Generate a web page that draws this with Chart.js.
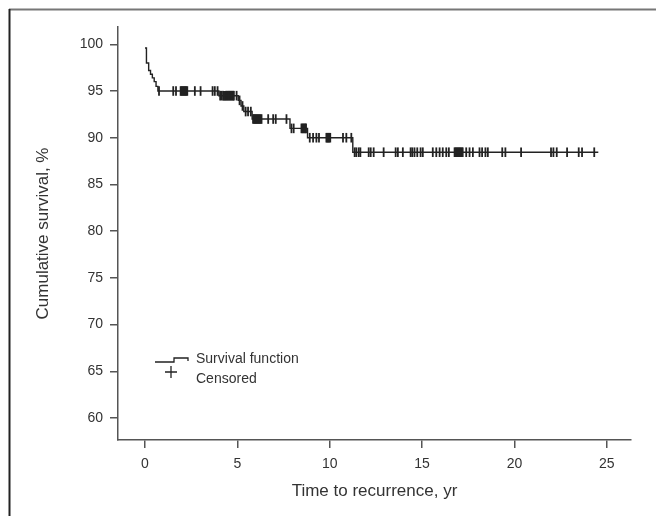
<!DOCTYPE html>
<html>
<head>
<meta charset="utf-8">
<script src="https://cdn.jsdelivr.net/npm/chart.js@4/dist/chart.umd.min.js"></script>
<style>
    html, body { margin: 0; padding: 0; background: #fff; }
</style>
</head>
<body>
<canvas id="km-chart" width="656" height="516"></canvas>
<script>
// Kaplan-Meier curve: time of each step (yr) and survival after it (%)
const stepTimes = [0, 0.08, 0.2, 0.3, 0.4, 0.5, 0.6, 0.7, 4.0, 5.05, 5.2, 5.35, 5.8, 7.85, 8.8, 11.25, 24.54];
const stepSurvival = [99.6, 98.0, 97.2, 96.8, 96.4, 96.0, 95.5, 95.0, 94.5, 94.0, 93.4, 92.8, 92.0, 91.0, 90.0, 88.45, 88.45];

// censored observations (yr); tight runs show up as solid blocks
const censoredTimes = [
    0.76, 1.53, 1.68, 1.93, 1.98, 2.03, 2.08, 2.13, 2.18, 2.23, 2.29, 2.7, 3.01, 3.66, 3.78, 3.93,
    4.07, 4.15, 4.23, 4.28, 4.33, 4.38, 4.43, 4.48, 4.53, 4.58, 4.63, 4.68, 4.73, 4.78, 4.81, 4.96,
    5.12, 5.28, 5.45, 5.58, 5.73,
    5.85, 5.9, 5.95, 6.0, 6.05, 6.1, 6.15, 6.2, 6.25, 6.31, 6.67, 6.94, 7.08, 7.66,
    7.93, 8.05, 8.47, 8.52, 8.57, 8.62, 8.67, 8.72,
    8.92, 9.1, 9.28, 9.42, 9.82, 9.87, 9.92, 9.97, 10.03, 10.72, 10.9, 11.17,
    11.35, 11.44, 11.57, 11.66, 12.11, 12.22, 12.38, 12.92, 13.57, 13.69, 13.96,
    14.38, 14.47, 14.59, 14.74, 14.92, 15.04, 15.58, 15.77, 15.95, 16.12, 16.31,
    16.45, 16.76, 16.81, 16.86, 16.91, 16.96, 17.01, 17.06, 17.11, 17.16, 17.2,
    17.39, 17.57, 17.75, 18.11, 18.25, 18.43, 18.56, 19.34, 19.51, 20.36,
    21.98, 22.11, 22.29, 22.85, 23.48, 23.66, 24.32,
];

const xTicks = [0, 5, 10, 15, 20, 25];
const yTicks = [60, 65, 70, 75, 80, 85, 90, 95, 100];

const legendLabels = ["Survival function", "Censored"];

const font = "'Liberation Sans', Arial, sans-serif";
const ink = "#222";
const axisColor = "#555";

// a censored mark sits on the curve at the survival in force at that time
function survivalAt(t) {
    let s = stepSurvival[0];
    for (let i = 0; i < stepTimes.length; i++) {
        if (stepTimes[i] <= t) s = stepSurvival[i];
    }
    return s;
}

const framePlugin = {
    id: 'frame',
    beforeDraw(chart) {
        const c = chart.ctx;
        c.save();
        c.fillStyle = "#fff";
        c.fillRect(0, 0, chart.width, chart.height);
        c.lineWidth = 2;
        c.strokeStyle = "#777";
        c.beginPath();
        c.moveTo(9, 9.5);
        c.lineTo(chart.width, 9.5);
        c.stroke();
        c.strokeStyle = ink;
        c.beginPath();
        c.moveTo(9.5, 9);
        c.lineTo(9.5, chart.height);
        c.stroke();
        c.restore();
    }
};

// legend sits inside the plot, bottom left
const legendPlugin = {
    id: 'insideLegend',
    afterDraw(chart) {
        const c = chart.ctx;
        const x0 = chart.chartArea.left + 37;
        const y0 = chart.chartArea.top + 331;
        c.save();
        c.strokeStyle = ink;
        c.lineWidth = 1.3;
        c.beginPath();
        c.moveTo(x0, y0 + 4);
        c.lineTo(x0 + 19, y0 + 4);
        c.lineTo(x0 + 19, y0);
        c.lineTo(x0 + 33, y0);
        c.lineTo(x0 + 33, y0 + 3);
        c.stroke();
        // plus sign for censored
        c.beginPath();
        c.moveTo(x0 + 10, y0 + 14);
        c.lineTo(x0 + 22, y0 + 14);
        c.moveTo(x0 + 16, y0 + 8);
        c.lineTo(x0 + 16, y0 + 20);
        c.stroke();
        c.fillStyle = "#333";
        c.font = "14px " + font;
        c.textBaseline = "middle";
        c.fillText(legendLabels[0], x0 + 41, y0 + 1);
        c.fillText(legendLabels[1], x0 + 41, y0 + 21);
        c.restore();
    }
};

const ctx = document.getElementById('km-chart');
new Chart(ctx, {
    type: 'scatter',
    data: {
        datasets: [
            {
                label: legendLabels[0],
                data: stepTimes.map((t, i) => ({x: t, y: stepSurvival[i]})),
                showLine: true,
                stepped: 'before',
                borderColor: ink,
                borderWidth: 1.4,
                pointRadius: 0,
            },
            {
                label: legendLabels[1],
                data: censoredTimes.map(t => ({x: t, y: survivalAt(t)})),
                showLine: false,
                pointStyle: 'line',
                rotation: 90,
                pointRadius: 4.8,
                borderColor: ink,
                borderWidth: 1.8,
            },
        ],
    },
    options: {
        responsive: false,
        animation: false,
        layout: {
            padding: {top: 27, right: 25, left: 0, bottom: 0},
        },
        scales: {
            x: {
                type: 'linear',
                min: -1.46,
                max: 26.31,
                afterBuildTicks: s => { s.ticks = xTicks.map(v => ({value: v})); },
                afterFit: s => { s.height = 76; },
                ticks: {
                    font: {family: font, size: 14},
                    color: "#333",
                    padding: 8,
                },
                grid: {
                    drawOnChartArea: false,
                    tickLength: 8,
                    color: axisColor,
                    lineWidth: 1.5,
                },
                border: {color: axisColor, width: 1.5},
                title: {
                    display: true,
                    text: 'Time to recurrence, yr',
                    font: {family: font, size: 17},
                    color: "#333",
                    padding: {top: 0, bottom: 14},
                },
            },
            y: {
                type: 'linear',
                min: 57.65,
                max: 101.85,
                afterBuildTicks: s => { s.ticks = yTicks.map(v => ({value: v})); },
                afterFit: s => { s.width = 118; },
                ticks: {
                    font: {family: font, size: 14},
                    color: "#333",
                    padding: 7,
                },
                grid: {
                    drawOnChartArea: false,
                    tickLength: 8,
                    color: axisColor,
                    lineWidth: 1.5,
                },
                border: {color: axisColor, width: 1.5},
                title: {
                    display: true,
                    text: 'Cumulative survival, %',
                    font: {family: font, size: 17},
                    color: "#333",
                    padding: {top: 33, bottom: 0},
                },
            },
        },
        plugins: {
            legend: {display: false},
            tooltip: {enabled: false},
        },
    },
    plugins: [framePlugin, legendPlugin],
});
</script>
</body>
</html>
